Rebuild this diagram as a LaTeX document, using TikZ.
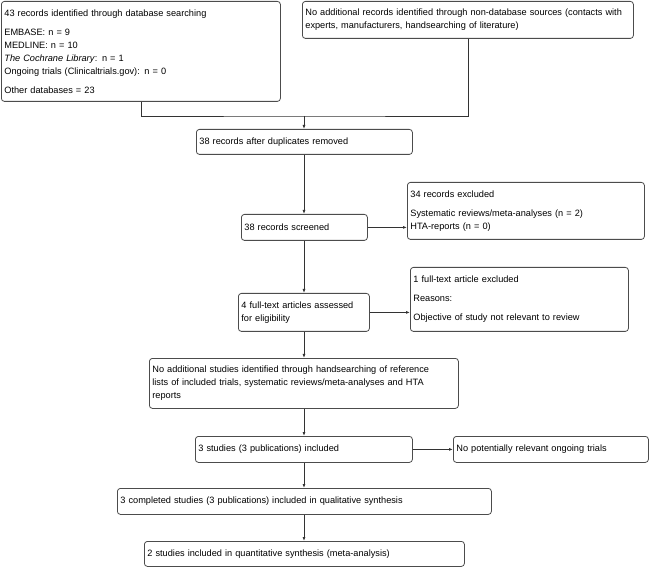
\documentclass[tikz,border=0pt]{standalone}
\usepackage{fontspec}
\setmainfont{Liberation Sans}
\usepackage{tikz}
\usetikzlibrary{arrows.meta}

\begin{document}
\begin{tikzpicture}[x=1pt, y=-1pt,
    box/.style={draw=black!70, line width=0.8pt, rounded corners=3pt, anchor=north west,
        align=left, inner sep=3pt, font=\fontsize{9.2}{13}\selectfont},
    link/.style={draw=black!80, line width=0.8pt},
    arrow/.style={link, -{Latex[length=4pt, width=3pt]}}]
    \useasboundingbox (0, 0) rectangle (649, 567);
    \node[box, text width=273pt, minimum height=100pt] (db) at (1, 1) {43 records identified through database searching\\[6pt]
        EMBASE: n = 9\\
        MEDLINE: n = 10\\
        \textit{The Cochrane Library}: n = 1\\
        Ongoing trials (Clinicaltrials.gov): n = 0\\[6pt]
        Other databases = 23};
    \node[box, text width=325pt, minimum height=37pt] (nondb) at (302, 1) {No additional records identified through non-database sources (contacts with\\
        experts, manufacturers, handsearching of literature)};
    \coordinate (merge) at (304, 116);
    \node[box, text width=210pt, minimum height=25pt] (dedup) at (196, 129) {38 records after duplicates removed};
    \node[box, text width=120pt, minimum height=26pt] (screened) at (241, 214) {38 records screened};
    \node[box, text width=231pt, minimum height=57pt] (excl) at (407, 182) {34 records excluded\\[6pt]
        Systematic reviews/meta-analyses (n = 2)\\
        HTA-reports (n = 0)};
    \node[box, text width=125pt, minimum height=38pt] (fulltext) at (238, 293) {4 full-text articles assessed\\
        for eligibility};
    \node[box, text width=212pt, minimum height=64pt] (ftexcl) at (410, 267) {1 full-text article excluded\\[6pt]
        Reasons:\\[6pt]
        Objective of study not relevant to review};
    \node[box, text width=303pt, minimum height=50pt] (handsearch) at (149, 358) {No additional studies identified through handsearching of reference\\
        lists of included trials, systematic reviews/meta-analyses and HTA\\
        reports};
    \node[box, text width=211pt, minimum height=26pt] (included) at (195, 436) {3 studies (3 publications) included};
    \node[box, text width=189pt, minimum height=26pt] (ongoing) at (453, 436) {No potentially relevant ongoing trials};
    \node[box, text width=368pt, minimum height=26pt] (qual) at (117, 488) {3 completed studies (3 publications) included in qualitative synthesis};
    \node[box, text width=314pt, minimum height=25pt] (quant) at (144, 541) {2 studies included in quantitative synthesis (meta-analysis)};

    \draw[link] (db.south) |- (merge) -| (nondb.south);
    \draw[arrow] (merge) -- (merge |- dedup.north);
    \draw[arrow] (dedup.south -| merge) -- (screened.north -| merge);
    \draw[arrow] (screened.east) -- (screened.east -| excl.west);
    \draw[arrow] (screened.south -| merge) -- (fulltext.north -| merge);
    \draw[arrow] (fulltext.east) -- (fulltext.east -| ftexcl.west);
    \draw[arrow] (fulltext.south -| merge) -- (handsearch.north -| merge);
    \draw[arrow] (handsearch.south -| merge) -- (included.north -| merge);
    \draw[arrow] (included.east) -- (included.east -| ongoing.west);
    \draw[arrow] (included.south -| merge) -- (qual.north -| merge);
    \draw[arrow] (qual.south -| merge) -- (quant.north -| merge);
\end{tikzpicture}
\end{document}
